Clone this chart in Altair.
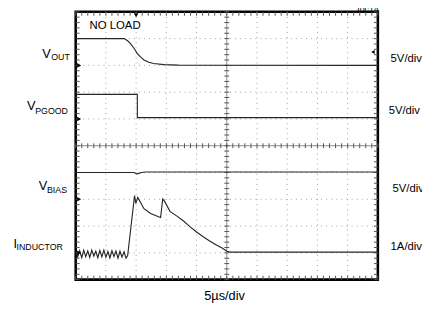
import altair as alt
import pandas as pd

# ---- data read from the scope shot (time in µs, 5 µs/div) ----
vout_t = [0, 8.0, 8.6, 9.1, 9.7, 10.2, 10.8, 11.3, 12.1, 12.9, 14.6, 17.0, 50]
vout_v = [5.0, 5.0, 4.6, 4.0, 3.1, 2.2, 1.5, 1.0, 0.6, 0.36, 0.15, 0.05, 0.0]

pgood_t = [0, 10.2, 10.2, 50]
pgood_v = [4.6, 4.6, 0.25, 0.25]

vbias_t = [0, 9.6, 10.2, 10.9, 11.6, 50]
vbias_v = [5.0, 5.0, 4.75, 5.0, 5.1, 5.1]

iind_t = [0.0, 0.33, 0.66, 1.0, 1.33, 1.66, 2.0, 2.33, 2.66, 3.0, 3.33, 3.66,
          4.0, 4.33, 4.66, 5.0, 5.33, 5.66, 6.0, 6.33, 6.66, 7.0, 7.33, 7.66,
          8.0, 8.33, 8.6, 9.74, 9.95, 10.27, 11.3, 12.4, 13.7, 14.05, 14.4,
          14.7, 15.6, 16.7, 17.8, 18.9, 20.0, 21.1, 22.1, 23.2, 24.3, 25.0,
          25.6, 50]
iind_v = [0.05, -0.15, 0.08, -0.18, 0.1, -0.14, 0.07, -0.17, 0.1, -0.12, 0.06,
          -0.18, 0.09, -0.15, 0.1, -0.16, 0.05, -0.19, 0.08, -0.14, 0.07, -0.2,
          0.06, -0.16, 0.04, -0.2, -0.1, 2.14, 1.85, 2.07, 1.65, 1.47, 1.35,
          1.32, 2.01, 1.93, 1.55, 1.38, 1.2, 0.98, 0.78, 0.6, 0.45, 0.3, 0.17,
          0.06, 0.03, 0.03]

# channel ground level (in divisions from bottom) and units per division
channels = {
    "VOUT": (vout_t, vout_v, 8, 5.0),
    "VPGOOD": (pgood_t, pgood_v, 6, 5.0),
    "VBIAS": (vbias_t, vbias_v, 3, 5.0),
    "IINDUCTOR": (iind_t, iind_v, 1, 1.0),
}
trigger_time = 10.0
trigger_level_vout = 2.5  # V on VOUT channel

W, H = 308, 273
xs = alt.Scale(domain=[0, 50], nice=False, zero=False)
ys = alt.Scale(domain=[0, 10], nice=False, zero=False)

rows = []
for name, (ts, vs, g, per) in channels.items():
    for i, (t, v) in enumerate(zip(ts, vs)):
        rows.append({"trace": name, "i": i, "t": t, "y": g + v / per})
traces = pd.DataFrame(rows)

X = lambda f="t": alt.X(f"{f}:Q", scale=xs, axis=None)
Y = lambda f="y": alt.Y(f"{f}:Q", scale=ys, axis=None)

grid_t = [5, 10, 15, 20, 30, 35, 40, 45]
grid_y = [1, 2, 3, 4, 6, 7, 8, 9]
minor_t = [i * 1.0 for i in range(51)]
minor_y = [i * 0.2 for i in range(51)]

dot = dict(color="#a0a0a0", strokeDash=[1, 4.16], strokeWidth=1)
gv = alt.Chart(pd.DataFrame({"t": grid_t})).mark_rule(**dot).encode(x=X())
gh = alt.Chart(pd.DataFrame({"y": grid_y})).mark_rule(**dot).encode(y=Y())
cv = alt.Chart(pd.DataFrame({"t": [25]})).mark_rule(color="#8a8a8a", strokeWidth=1).encode(x=X())
ch = alt.Chart(pd.DataFrame({"y": [5]})).mark_rule(color="#8a8a8a", strokeWidth=1).encode(y=Y())

mt = pd.DataFrame({"t": minor_t})
my = pd.DataFrame({"y": minor_y})
tk = dict(color="#555555", strokeWidth=1)
ticks = [
    alt.Chart(mt).mark_rule(**tk).encode(x=X(), y=alt.value(H / 2 - 2.5), y2=alt.value(H / 2 + 2.5)),
    alt.Chart(my).mark_rule(**tk).encode(y=Y(), x=alt.value(W / 2 - 2.5), x2=alt.value(W / 2 + 2.5)),
    alt.Chart(mt).mark_rule(**tk).encode(x=X(), y=alt.value(0), y2=alt.value(4)),
    alt.Chart(mt).mark_rule(**tk).encode(x=X(), y=alt.value(H), y2=alt.value(H - 4)),
    alt.Chart(my).mark_rule(**tk).encode(y=Y(), x=alt.value(0), x2=alt.value(4)),
    alt.Chart(my).mark_rule(**tk).encode(y=Y(), x=alt.value(W), x2=alt.value(W - 4)),
]

lines = alt.Chart(traces).mark_line(color="#262626", strokeWidth=1.15, clip=True).encode(
    x=X(), y=Y(), detail="trace:N", order="i:Q")

grounds = alt.Chart(pd.DataFrame({"y": [c[2] for c in channels.values()]})).mark_point(
    shape="triangle-right", filled=True, size=22, color="black", opacity=1).encode(
    x=alt.value(3.5), y=Y())
trig_t = alt.Chart(pd.DataFrame({"t": [trigger_time]})).mark_point(
    shape="triangle-down", filled=True, size=22, color="black", opacity=1).encode(
    x=X(), y=alt.value(3.5))
trig_l = alt.Chart(pd.DataFrame({"y": [8 + trigger_level_vout / 5.0]})).mark_point(
    shape="triangle-left", filled=True, size=16, color="black", opacity=1).encode(
    x=alt.value(W - 5), y=Y())

REG = "Liberation Sans, Arial, sans-serif"


def label(txt, x, y, size, align="left"):
    return alt.Chart(pd.DataFrame({"a": [0]})).mark_text(
        text=txt, fontSize=size, font=REG, align=align, baseline="alphabetic",
        color="black").encode(x=alt.value(x), y=alt.value(y))


texts = [
    label("NO LOAD", 14, 18, 11.6),
    label("toc14", 309, 0, 9, "right"),
    label("5V/div", 321, 51, 11.5),
    label("5V/div", 319, 104, 11.5),
    label("5V/div", 323, 184, 11.5),
    label("1A/div", 321, 243, 11.5),
    label("5µs/div", 131, 294, 13),
    label("V", -34, 47, 13), label("OUT", -25, 49.5, 9),
    label("V", -49.7, 100, 13), label("PGOOD", -41.3, 103.7, 9),
    label("V", -37.7, 182, 13), label("BIAS", -29.3, 184.3, 9),
    label("I", -63.5, 240.3, 13), label("INDUCTOR", -60.3, 242.7, 9),
]

chart = alt.layer(gv, gh, cv, ch, *ticks, lines, grounds, trig_t, trig_l, *texts).properties(
    width=W, height=H,
    padding={"left": 69, "top": 1, "right": 45, "bottom": 26},
    autosize=alt.AutoSizeParams(type="none"),
    background="white",
).configure_view(stroke="black", strokeWidth=2.6)

chart.save("out.html", embed_options={"renderer": "svg", "actions": False})
